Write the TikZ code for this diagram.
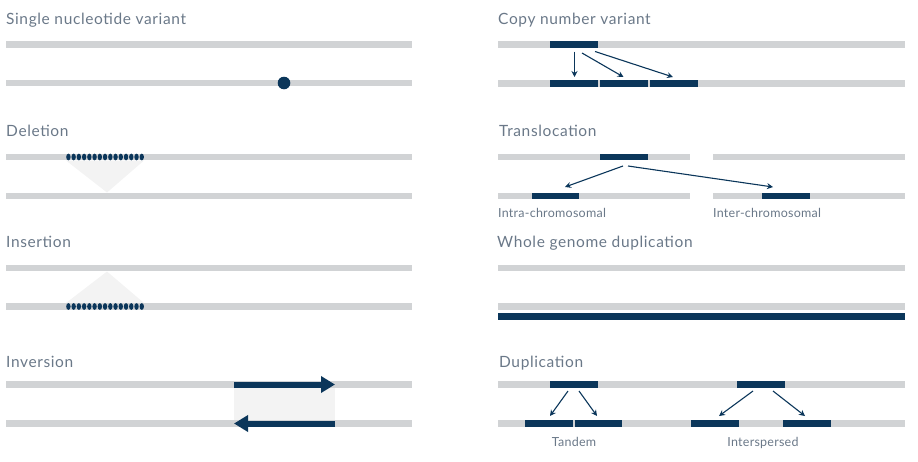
\documentclass[tikz,border=0pt]{standalone}
\usepackage{fontspec}
\setmainfont{Lato}
\usetikzlibrary{arrows.meta}
\definecolor{barGray}{HTML}{D1D3D5}
\definecolor{navy}{HTML}{0B365A}
\definecolor{titleGray}{HTML}{6A7888}
\definecolor{paleFill}{HTML}{F3F3F3}
\begin{document}
\begin{tikzpicture}[x=1pt,y=-1pt,
  chrom/.style={draw=barGray, line width=6.5pt},
  seg/.style={draw=navy, line width=6.5pt},
  move/.style={draw=navy, line width=1.1pt, -{Stealth[length=6pt,width=6pt]}},
  bigarrow/.style={draw=navy, line width=6pt, -{Triangle[length=14pt,width=16pt]}},
  title/.style={anchor=base west, inner sep=0pt, text=titleGray,
    font=\fontsize{15.5}{18}\selectfont\addfontfeatures{LetterSpace=4}},
  sublabel/.style={inner sep=0pt, text=titleGray,
    font=\fontsize{12.5}{15}\selectfont\addfontfeatures{LetterSpace=2}},
]
\useasboundingbox (0,0) rectangle (918,461);

% ---------- Single nucleotide variant ----------
\node[title] (snvT) at (6,24) {Single nucleotide variant};
\draw[chrom] (6,44.5) -- (412,44.5);
\draw[chrom] (6,83) -- (412,83);
\fill[navy] (284,83) circle (6.3);

% ---------- Deletion ----------
\node[title] (delT) at (6,136) {Deletion};
\fill[paleFill] (66,160.5) -- (144,160.5) -- (107,192.5) -- cycle;
\draw[chrom] (6,157) -- (412,157);
\draw[chrom] (6,196) -- (412,196);
\foreach \i in {0,...,14} \fill[navy] ({68.4+5.24*\i},157) ellipse (2.2 and 3.4);

% ---------- Insertion ----------
\node[title] (insT) at (6,247) {Insertion};
\fill[paleFill] (107,271.5) -- (66,303) -- (144,303) -- cycle;
\draw[chrom] (6,268) -- (412,268);
\draw[chrom] (6,306.5) -- (412,306.5);
\foreach \i in {0,...,14} \fill[navy] ({68.4+5.24*\i},306.5) ellipse (2.2 and 3.4);

% ---------- Inversion ----------
\node[title] (invT) at (6,367) {Inversion};
\fill[paleFill] (234,388) rectangle (335,420);
\draw[chrom] (6,384.5) -- (412,384.5);
\draw[chrom] (6,423.5) -- (412,423.5);
\draw[bigarrow] (234,384.5) -- (335,384.5);
\draw[bigarrow] (335,423.5) -- (234,423.5);

% ---------- Copy number variant ----------
\node[title] (cnvT) at (498,24) {Copy number variant};
\draw[chrom] (498,44.5) -- (905,44.5);
\draw[chrom] (498,83.5) -- (905,83.5);
\draw[seg] (550,44.5) -- (598,44.5);
\draw[seg] (550,83.5) -- (598,83.5);
\draw[seg] (600,83.5) -- (648,83.5);
\draw[seg] (650,83.5) -- (698,83.5);
\draw[move] (574.5,51.5) -- (574.5,77);
\draw[move] (582,53) -- (623.5,77);
\draw[move] (595,51.5) -- (673,77);

% ---------- Translocation ----------
\node[title] (traT) at (499,136) {Translocation};
\draw[chrom] (498,157) -- (690,157);
\draw[chrom] (498,196) -- (690,196);
\draw[chrom] (713,157) -- (905,157);
\draw[chrom] (713,196) -- (905,196);
\draw[seg] (600,157) -- (648,157);
\draw[seg] (532,196) -- (579,196);
\draw[seg] (762,196) -- (810,196);
\draw[move] (623,166) -- (565,187);
\draw[move] (628,166) -- (773,187);
\node[sublabel, anchor=base west] (intra) at (498,217) {Intra-chromosomal};
\node[sublabel, anchor=base west] (inter) at (713,217) {Inter-chromosomal};

% ---------- Whole genome duplication ----------
\node[title] (wgdT) at (497,247) {Whole genome duplication};
\draw[chrom] (498,268) -- (905,268);
\draw[chrom] (498,306.6) -- (905,306.6);
\draw[seg] (498,316.6) -- (905,316.6);

% ---------- Duplication ----------
\node[title] (dupT) at (499,367) {Duplication};
\draw[chrom] (498,384.5) -- (905,384.5);
\draw[chrom] (498,423.5) -- (905,423.5);
\draw[seg] (550,384.5) -- (598,384.5);
\draw[seg] (737,384.5) -- (785,384.5);
\draw[seg] (525,423.5) -- (573,423.5);
\draw[seg] (574.5,423.5) -- (622,423.5);
\draw[seg] (691,423.5) -- (739,423.5);
\draw[seg] (783,423.5) -- (831,423.5);
\draw[move] (568,391) -- (550,416);
\draw[move] (579,391) -- (597,416);
\draw[move] (753,391) -- (719,416);
\draw[move] (773,391) -- (805,416);
\node[sublabel, anchor=base] (tandem) at (574,446) {Tandem};
\node[sublabel, anchor=base] (intersp) at (763,446) {Interspersed};
\end{tikzpicture}
\end{document}
